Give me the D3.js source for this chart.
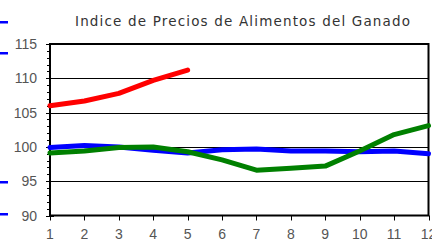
<!DOCTYPE html>
<html>
<head>
<meta charset="utf-8">
<script src="https://cdn.jsdelivr.net/npm/d3@7"></script>
<style>
  body { margin: 0; background: #fff; }
  svg { display: block; }
</style>
</head>
<body>
<div id="chart"></div>
<script>
// months 1..12, index values
months = [1, 2, 3, 4, 5, 6, 7, 8, 9, 10, 11, 12];
redValues = [106.0, 106.7, 107.8, 109.7, 111.2];
blueValues = [99.9, 100.2, 100.0, 99.5, 99.1, 99.6, 99.7, 99.4, 99.4, 99.3, 99.4, 99.0];
greenValues = [99.1, 99.4, 99.9, 100.0, 99.3, 98.1, 96.6, 96.9, 97.2, 99.4, 101.8, 103.1];
yTicks = [90, 95, 100, 105, 110, 115];
gridValues = [95, 100, 105, 110];
title = "Indice de Precios de Alimentos del Ganado";

var width = 432, height = 241;

var svg = d3.select("#chart")
    .append("svg")
    .attr("width", width)
    .attr("height", height);

var x = d3.scaleLinear().domain([1, 12]).range([50, 428.5]);
var y = d3.scaleLinear().domain([90, 115]).range([215.5, 44]);

// stray legend marks at the left edge
[22, 53, 182, 214].forEach(function (yy) {
    svg.append("rect")
        .attr("x", 0).attr("y", yy - 1)
        .attr("width", 8).attr("height", 2.5)
        .style("fill", "#0000ff");
});

svg.append("text")
    .attr("x", 75)
    .attr("y", 26)
    .attr("textLength", 335)
    .attr("lengthAdjust", "spacing")
    .style("font-family", "'DejaVu Sans', sans-serif")
    .style("font-size", "13.5px")
    .style("fill", "#333")
    .text(title);

// grid lines
svg.selectAll("line.grid")
    .data(gridValues)
    .enter()
    .append("line")
    .attr("class", "grid")
    .attr("x1", x(1)).attr("x2", x(12))
    .attr("y1", function (d) { return Math.round(y(d)) + 0.5; })
    .attr("y2", function (d) { return Math.round(y(d)) + 0.5; })
    .style("stroke", "#000")
    .style("stroke-width", 1);

// plot frame
svg.append("rect")
    .attr("x", x(1)).attr("y", y(115))
    .attr("width", x(12) - x(1)).attr("height", y(90) - y(115))
    .style("fill", "none")
    .style("stroke", "#000")
    .style("stroke-width", 2);

// y axis minor ticks
var minor = d3.range(90, 115.01, 1);
svg.selectAll("line.minor")
    .data(minor)
    .enter()
    .append("line")
    .attr("class", "minor")
    .attr("x1", function (d) { return d % 5 == 0 ? x(1) - 4 : x(1) - 3; })
    .attr("x2", function (d) { return d % 5 == 0 ? x(1) + 4 : x(1) + 1; })
    .attr("y1", function (d) { return Math.round(y(d)) + 0.5; })
    .attr("y2", function (d) { return Math.round(y(d)) + 0.5; })
    .style("stroke", "#000")
    .style("stroke-width", 1);

svg.selectAll("text.ylab")
    .data(yTicks)
    .enter()
    .append("text")
    .attr("class", "ylab")
    .attr("x", 37)
    .attr("y", function (d) { return y(d) + 5; })
    .attr("text-anchor", "end")
    .style("font-family", "'Liberation Sans Narrow', 'Liberation Sans', sans-serif")
    .style("font-size", "14px")
    .style("fill", "#555")
    .text(function (d) { return d; });

// x axis ticks and labels
svg.selectAll("line.xtick")
    .data(months)
    .enter()
    .append("line")
    .attr("class", "xtick")
    .attr("x1", function (d) { return Math.round(x(d)) + 0.5; })
    .attr("x2", function (d) { return Math.round(x(d)) + 0.5; })
    .attr("y1", y(90)).attr("y2", y(90) + 5)
    .style("stroke", "#000")
    .style("stroke-width", 1);

svg.selectAll("text.xlab")
    .data(months)
    .enter()
    .append("text")
    .attr("class", "xlab")
    .attr("x", function (d) { return x(d); })
    .attr("y", 239)
    .attr("text-anchor", "middle")
    .style("font-family", "'Liberation Sans Narrow', 'Liberation Sans', sans-serif")
    .style("font-size", "14px")
    .style("fill", "#555")
    .text(function (d) { return d; });

var line = d3.line()
    .x(function (d, i) { return x(months[i]); })
    .y(function (d) { return y(d); });

var series = [
    { values: blueValues, color: "#0000ff" },
    { values: greenValues, color: "#008000" },
    { values: redValues, color: "#ff0000" }
];

svg.selectAll("path.series")
    .data(series)
    .enter()
    .append("path")
    .attr("class", "series")
    .attr("d", function (d) { return line(d.values); })
    .style("fill", "none")
    .style("stroke", function (d) { return d.color; })
    .style("stroke-width", 5)
    .style("stroke-linejoin", "round")
    .style("stroke-linecap", "round");
</script>
</body>
</html>
